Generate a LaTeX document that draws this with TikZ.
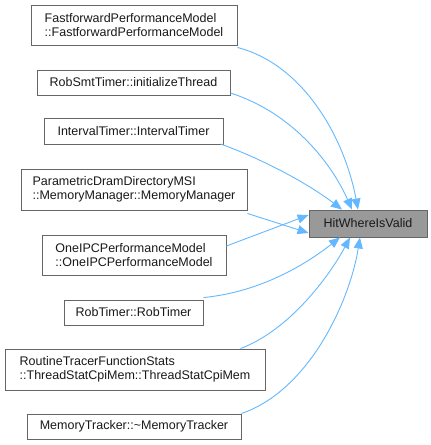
\documentclass[tikz,border=0pt]{standalone}
\usepackage{fontspec}
\setmainfont{Liberation Sans}
\usetikzlibrary{arrows.meta}
\definecolor{edgeblue}{HTML}{63B8FF}
\definecolor{boxline}{HTML}{666666}
\definecolor{targetfill}{HTML}{999999}
\begin{document}
\begin{tikzpicture}[x=1pt,y=-1pt,
  fn/.style={draw=boxline,line width=0.9pt,fill=white,inner sep=0pt,align=left,
    font=\fontsize{12.5}{14.5}\selectfont,text=black!90},
  tgt/.style={fn,fill=targetfill},
  edge/.style={draw=edgeblue,line width=0.9pt,-{Triangle[length=11pt,width=9pt]}}]
\useasboundingbox (0,0) rectangle (431,445);
\node[fn,minimum width=206pt,minimum height=40pt] (b1) at (134,25) {FastforwardPerformanceModel\\::FastforwardPerformanceModel};
\node[fn,minimum width=193pt,minimum height=25pt] (b2) at (133.5,82.5) {RobSmtTimer::initializeThread};
\node[fn,minimum width=179pt,minimum height=26pt] (b3) at (133.5,131.5) {IntervalTimer::IntervalTimer};
\node[fn,minimum width=226pt,minimum height=41pt] (b4) at (134,189.5) {ParametricDramDirectoryMSI\\::MemoryManager::MemoryManager};
\node[fn,minimum width=184pt,minimum height=40pt] (b5) at (134,255) {OneIPCPerformanceModel\\::OneIPCPerformanceModel};
\node[fn,minimum width=139pt,minimum height=25pt] (b6) at (133.5,312.5) {RobTimer::RobTimer};
\node[fn,minimum width=260pt,minimum height=41pt] (b7) at (135,369.5) {RoutineTracerFunctionStats\\::ThreadStatCpiMem::ThreadStatCpiMem};
\node[fn,minimum width=214pt,minimum height=25pt] (b8) at (134,426.5) {MemoryTracker::\textasciitilde MemoryTracker};
\node[tgt,minimum width=118pt,minimum height=27pt] (t) at (368,223.5) {HitWhereIsValid};
\draw[edge] ([yshift=-2pt]b1.south east) .. controls (305,65) and (345,140) .. ([xshift=-10pt]t.north);
\draw[edge] ([yshift=-10.5pt]b2.east) .. controls (290,112) and (330,160) .. ([xshift=-16pt]t.north);
\draw[edge] ([xshift=-3pt,yshift=1pt]b3.south east) .. controls (265,160) and (310,185) .. ([xshift=-26pt]t.north);
\draw[edge] ([yshift=-3pt]b4.south east) -- ([yshift=-9.5pt]t.west);
\draw[edge] ([yshift=9pt]b5.east) -- ([yshift=8.5pt]t.west);
\draw[edge] ([yshift=2pt]b6.north east) .. controls (260,292) and (305,265) .. ([xshift=-28pt]t.south);
\draw[edge] ([xshift=-25pt]b7.north east) .. controls (290,330) and (330,275) .. ([xshift=-18pt]t.south);
\draw[edge] ([xshift=0pt]b8.north east) .. controls (310,390) and (350,300) .. ([xshift=-8pt]t.south);
\end{tikzpicture}
\end{document}
